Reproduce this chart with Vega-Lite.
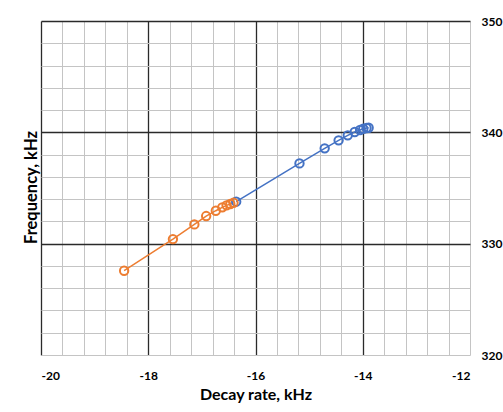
{
  "$schema": "https://vega.github.io/schema/vega-lite/v6.json",
  "width": 429,
  "height": 334,
  "autosize": {"type": "none"},
  "padding": {"left": 41, "top": 21, "right": 33, "bottom": 57},
  "background": "white",
  "config": {
    "view": {"stroke": null},
    "font": "Lato",
    "axis": {"labelFont": "Lato", "titleFont": "Lato", "labelFontWeight": "bold", "titleFontWeight": "bold", "labelColor": "#000", "titleColor": "#000", "ticks": false, "domain": false}
  },
  "data": {
    "values": [
      {"series": "A", "x": -16.36, "y": 333.77},
      {"series": "A", "x": -15.18, "y": 337.21},
      {"series": "A", "x": -14.71, "y": 338.56},
      {"series": "A", "x": -14.45, "y": 339.28},
      {"series": "A", "x": -14.28, "y": 339.73},
      {"series": "A", "x": -14.15, "y": 340.03},
      {"series": "A", "x": -14.05, "y": 340.21},
      {"series": "A", "x": -13.99, "y": 340.32},
      {"series": "A", "x": -13.93, "y": 340.39},
      {"series": "A", "x": -13.89, "y": 340.41},
      {"series": "B", "x": -18.45, "y": 327.57},
      {"series": "B", "x": -17.54, "y": 330.41},
      {"series": "B", "x": -17.14, "y": 331.73},
      {"series": "B", "x": -16.92, "y": 332.48},
      {"series": "B", "x": -16.74, "y": 332.96},
      {"series": "B", "x": -16.62, "y": 333.26},
      {"series": "B", "x": -16.54, "y": 333.44},
      {"series": "B", "x": -16.47, "y": 333.56},
      {"series": "B", "x": -16.41, "y": 333.67}
    ]
  },
  "encoding": {
    "x": {
      "field": "x", "type": "quantitative",
      "scale": {"domain": [-20, -12], "nice": false, "zero": false},
      "axis": {
        "orient": "bottom",
        "title": "Decay rate, kHz",
        "titleFontSize": 16,
        "titlePadding": 5,
        "labelFontSize": 12,
        "labelPadding": 15,
        "values": [-20, -19.6, -19.2, -18.8, -18.4, -18, -17.6, -17.2, -16.8, -16.4, -16, -15.6, -15.2, -14.8, -14.4, -14, -13.6, -13.2, -12.8, -12.4, -12],
        "labelExpr": "datum.value % 2 === 0 ? '-' + abs(datum.value) : ''",
        "labelOverlap": false,
        "grid": true,
        "gridColor": {"condition": {"test": "datum.value % 2 === 0 && datum.value != -12", "value": "#2a2a2a"}, "value": "#c4c4c4"},
        "gridWidth": {"condition": {"test": "datum.value % 2 === 0 && datum.value != -12", "value": 1.3}, "value": 1}
      }
    },
    "y": {
      "field": "y", "type": "quantitative",
      "scale": {"domain": [320, 350], "nice": false, "zero": false},
      "axis": {
        "orient": "right",
        "title": "Frequency, kHz",
        "titleFontSize": 16.5,
        "titleAngle": 270,
        "titleX": -439,
        "titleY": 166,
        "titleAlign": "center",
        "titleBaseline": "middle",
        "labelFontSize": 12,
        "labelPadding": 11,
        "values": [320, 322, 324, 326, 328, 330, 332, 334, 336, 338, 340, 342, 344, 346, 348, 350],
        "labelExpr": "datum.value % 10 === 0 ? datum.label : ''",
        "labelOverlap": false,
        "grid": true,
        "gridColor": {"condition": {"test": "datum.value % 10 === 0 && datum.value != 320", "value": "#2a2a2a"}, "value": "#c4c4c4"},
        "gridWidth": {"condition": {"test": "datum.value % 10 === 0 && datum.value != 320", "value": 1.3}, "value": 1}
      }
    },
    "color": {
      "field": "series", "type": "nominal",
      "scale": {"domain": ["A", "B"], "range": ["#4472C4", "#ED7D31"]},
      "legend": null
    }
  },
  "layer": [
    {"mark": {"type": "line", "strokeWidth": 1.5}},
    {"mark": {"type": "point", "shape": "circle", "filled": false, "size": 70, "strokeWidth": 2, "opacity": 1}}
  ]
}
